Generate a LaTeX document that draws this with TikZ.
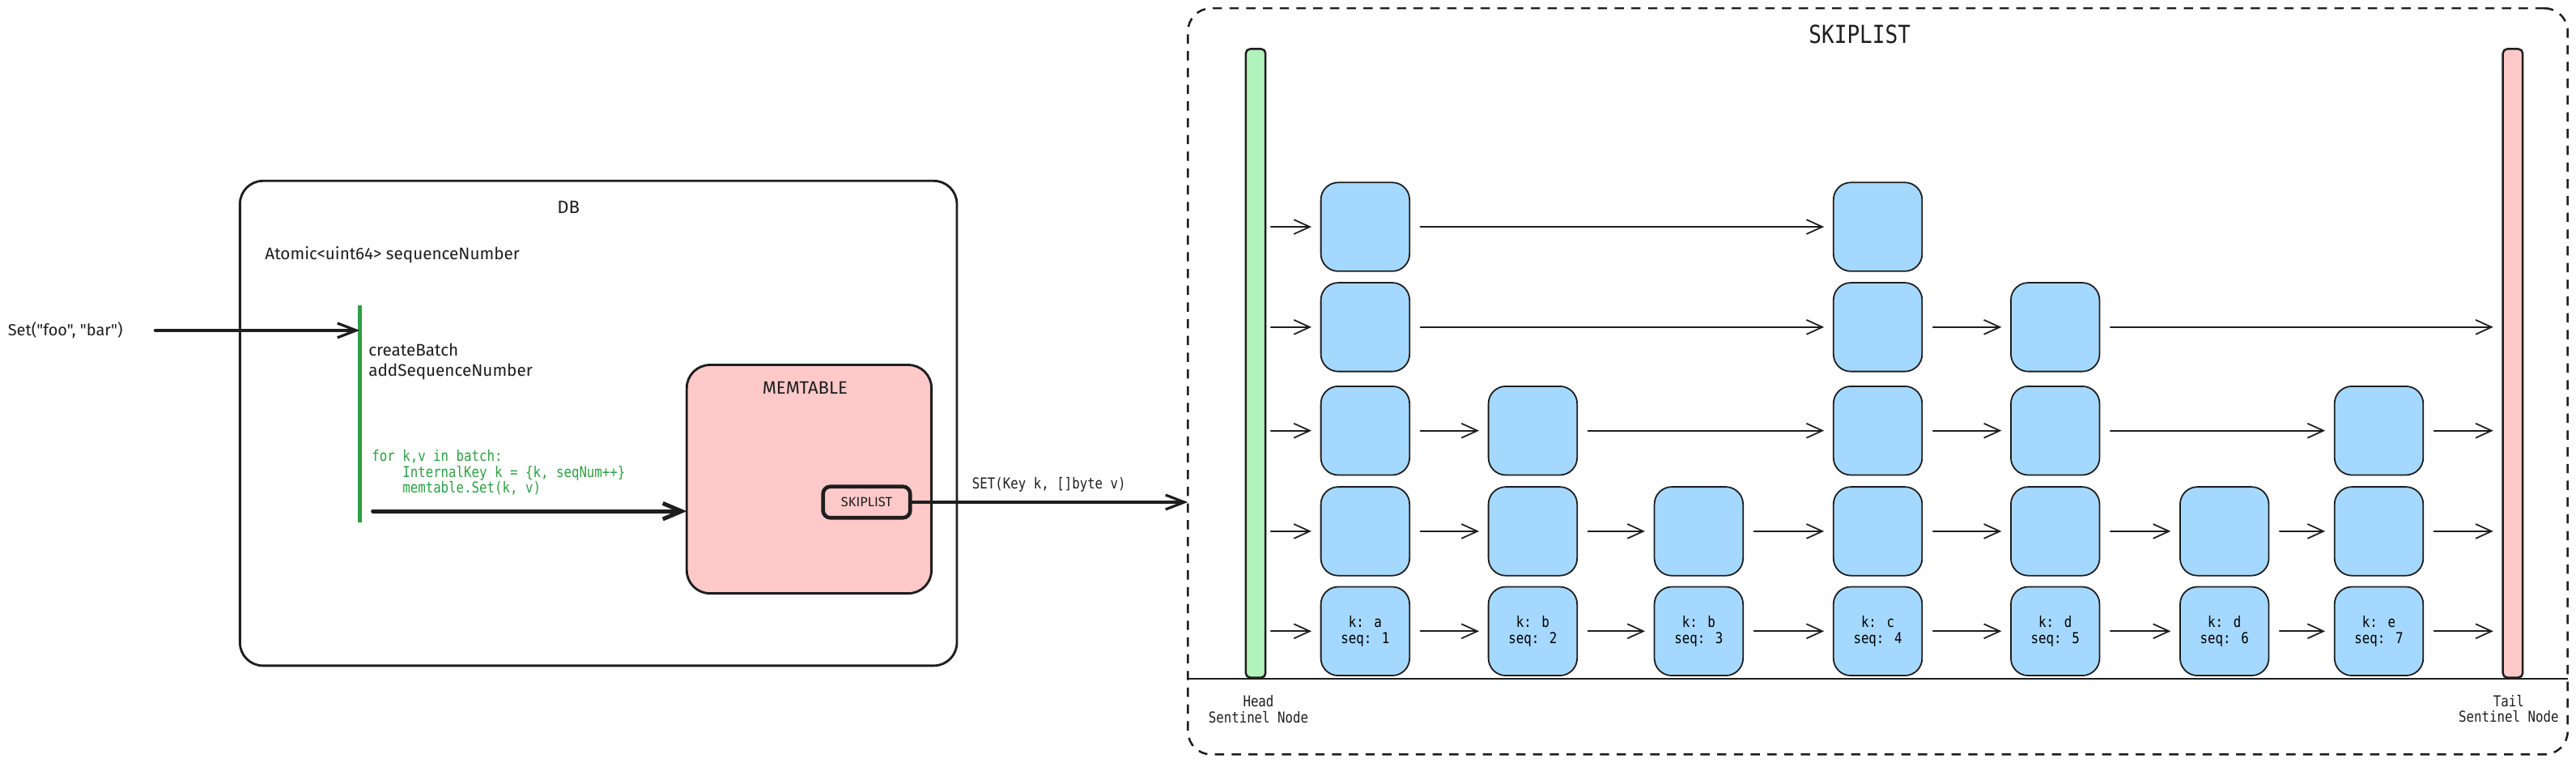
\documentclass[tikz,border=0pt]{standalone}
\usepackage{fontspec}
\usetikzlibrary{arrows.meta}
\newfontfamily\handfont{Fira Sans}
\newfontfamily\codefont[FakeStretch=0.85]{DejaVu Sans Mono}
\definecolor{ink}{HTML}{1E1E1E}
\definecolor{nodeblue}{HTML}{A5D8FF}
\definecolor{headgreen}{HTML}{B2F2BB}
\definecolor{tailred}{HTML}{FFC9C9}
\definecolor{codegreen}{HTML}{2F9E44}
\tikzset{
  box/.style={draw=ink, line width=0.8pt, rounded corners=8pt, inner sep=0pt, outer sep=0pt},
  skipnode/.style={draw=ink, fill=nodeblue, line width=0.5pt, rounded corners=6pt,
    minimum width=1.08cm, minimum height=1.08cm, inner sep=0pt, align=center,
    font=\codefont\fontsize{5.2}{5.4}\selectfont},
  sentinel/.style={draw=ink, line width=0.7pt, rounded corners=1.5pt,
    minimum width=0.24cm, minimum height=7.65cm, inner sep=0pt},
  link/.style={draw=ink, line width=0.5pt, line cap=round,
    -{Straight Barb[length=5.5pt,width=5pt]}, shorten <=3.5pt, shorten >=3pt},
  setarrow/.style={draw=ink, line width=0.9pt, line cap=round,
    -{Straight Barb[length=6.5pt,width=5pt]}},
  flowarrow/.style={draw=ink, line width=1.4pt, line cap=round,
    -{Straight Barb[length=6.5pt,width=5.5pt]}},
  handtext/.style={font=\handfont\fontsize{5.8}{6.8}\selectfont, text=ink, inner sep=0pt},
  codetext/.style={font=\codefont\fontsize{5.2}{5.4}\selectfont, text=ink, inner sep=0pt},
}
\begin{document}
\begin{tikzpicture}[x=0.02cm, y=-0.02cm]
  \useasboundingbox (0, 0) rectangle (1568, 464);

  \node [box, minimum width=8.73cm, minimum height=5.9cm] (db) at (364.25, 257.5) {};
  \node [handtext, font=\handfont\fontsize{6.2}{7}\selectfont] (dbtitle) at (346, 126) {DB};
  \node [handtext, anchor=west] (seqnum) at (161, 155) {Atomic<uint64> sequenceNumber};
  \node [handtext, font=\handfont\fontsize{5.6}{6.5}\selectfont, anchor=west] (setcall) at (4.5, 201) {Set("foo", "bar")};
  \coordinate (batchtop) at (219, 186);
  \coordinate (batchbot) at (219, 318);
  \draw [codegreen, line width=1.2pt] (batchtop) -- (batchbot);
  \draw [setarrow, shorten <=11pt] (setcall.east) -- (batchtop |- setcall.east);
  \node [handtext, anchor=west, align=left] (batchsteps) at (224, 220) {createBatch\\addSequenceNumber};
  \node [codetext, text=codegreen, anchor=north west, align=left] (loopcode) at (226, 273.5)
    {for k,v in batch:\\\hphantom{for }InternalKey k = \{k, seqNum++\}\\\hphantom{for }memtable.Set(k, v)};

  \node [box, fill=tailred, minimum width=2.98cm, minimum height=2.78cm] (memtable) at (492.5, 291.5) {};
  \node [handtext, font=\handfont\fontsize{6.2}{7}\selectfont] (memtitle) at (490, 236) {MEMTABLE};
  \node [box, line width=1.3pt, rounded corners=2.5pt, minimum width=1.06cm, minimum height=0.38cm,
    handtext, font=\handfont\fontsize{4.6}{5}\selectfont] (memskip) at (527.5, 305.5) {SKIPLIST};
  \coordinate (batchout) at (227, 311);
  \draw [flowarrow] (batchout) -- (memtable.west |- batchout);

  \node [box, line width=0.7pt, dash pattern=on 3.2pt off 2.6pt, minimum width=16.8cm, minimum height=9.08cm] (frame) at (1143, 232) {};
  \draw [setarrow] (memskip.east) -- (frame.west |- memskip.east)
    node [codetext, midway, above=3pt] (setlabel) {SET(Key k, []byte v)};
  \node [codetext, font=\codefont\fontsize{8.6}{9}\selectfont] (frametitle) at (1132, 21) {SKIPLIST};
  \coordinate (floor) at (1143, 413);
  \draw [ink, line width=0.6pt] (frame.west |- floor) -- (frame.east |- floor);

  \node [sentinel, fill=headgreen] (head) at (764.3, 221) {};
  \node [sentinel, fill=tailred] (tail) at (1529.5, 221) {};
  \node [codetext, align=center] (headlabel) at (766, 431.5) {Head\\Sentinel Node};
  \node [codetext, align=center] (taillabel) at (1527, 431) {Tail\\Sentinel Node};

  \node [skipnode] (s1l4) at (831, 138) {};
  \node [skipnode] (s1l3) at (831, 199) {};
  \node [skipnode] (s1l2) at (831, 262) {};
  \node [skipnode] (s1l1) at (831, 323.2) {};
  \node [skipnode] (s1l0) at (831, 384) {k: a\\seq: 1};
  \node [skipnode] (s2l2) at (933, 262) {};
  \node [skipnode] (s2l1) at (933, 323.2) {};
  \node [skipnode] (s2l0) at (933, 384) {k: b\\seq: 2};
  \node [skipnode] (s3l1) at (1034, 323.2) {};
  \node [skipnode] (s3l0) at (1034, 384) {k: b\\seq: 3};
  \node [skipnode] (s4l4) at (1143, 138) {};
  \node [skipnode] (s4l3) at (1143, 199) {};
  \node [skipnode] (s4l2) at (1143, 262) {};
  \node [skipnode] (s4l1) at (1143, 323.2) {};
  \node [skipnode] (s4l0) at (1143, 384) {k: c\\seq: 4};
  \node [skipnode] (s5l3) at (1251, 199) {};
  \node [skipnode] (s5l2) at (1251, 262) {};
  \node [skipnode] (s5l1) at (1251, 323.2) {};
  \node [skipnode] (s5l0) at (1251, 384) {k: d\\seq: 5};
  \node [skipnode] (s6l1) at (1354, 323.2) {};
  \node [skipnode] (s6l0) at (1354, 384) {k: d\\seq: 6};
  \node [skipnode] (s7l2) at (1448, 262) {};
  \node [skipnode] (s7l1) at (1448, 323.2) {};
  \node [skipnode] (s7l0) at (1448, 384) {k: e\\seq: 7};

  \draw [link, shorten <=1.5pt] (head.east |- s1l4) -- (s1l4);
  \draw [link] (s1l4) -- (s4l4);

  \draw [link, shorten <=1.5pt] (head.east |- s1l3) -- (s1l3);
  \draw [link] (s1l3) -- (s4l3);
  \draw [link] (s4l3) -- (s5l3);
  \draw [link] (s5l3) -- (tail.west |- s5l3);

  \draw [link, shorten <=1.5pt] (head.east |- s1l2) -- (s1l2);
  \draw [link] (s1l2) -- (s2l2);
  \draw [link] (s2l2) -- (s4l2);
  \draw [link] (s4l2) -- (s5l2);
  \draw [link] (s5l2) -- (s7l2);
  \draw [link] (s7l2) -- (tail.west |- s7l2);

  \draw [link, shorten <=1.5pt] (head.east |- s1l1) -- (s1l1);
  \draw [link] (s1l1) -- (s2l1);
  \draw [link] (s2l1) -- (s3l1);
  \draw [link] (s3l1) -- (s4l1);
  \draw [link] (s4l1) -- (s5l1);
  \draw [link] (s5l1) -- (s6l1);
  \draw [link] (s6l1) -- (s7l1);
  \draw [link] (s7l1) -- (tail.west |- s7l1);

  \draw [link, shorten <=1.5pt] (head.east |- s1l0) -- (s1l0);
  \draw [link] (s1l0) -- (s2l0);
  \draw [link] (s2l0) -- (s3l0);
  \draw [link] (s3l0) -- (s4l0);
  \draw [link] (s4l0) -- (s5l0);
  \draw [link] (s5l0) -- (s6l0);
  \draw [link] (s6l0) -- (s7l0);
  \draw [link] (s7l0) -- (tail.west |- s7l0);
\end{tikzpicture}
\end{document}
